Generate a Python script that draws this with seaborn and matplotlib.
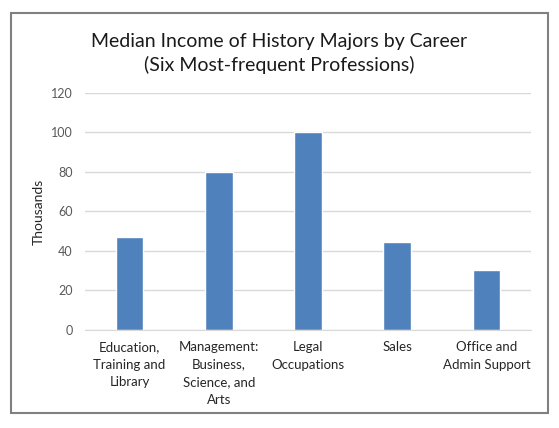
import seaborn as sns
import pandas as pd
import matplotlib.pyplot as plt
from matplotlib.patches import Rectangle

careers = ["Education,\nTraining and\nLibrary",
           "Management:\nBusiness,\nScience, and\nArts",
           "Legal\nOccupations",
           "Sales",
           "Office and\nAdmin Support"]
income = [47, 80, 100, 44.5, 30.5]
yticks = [0, 20, 40, 60, 80, 100, 120]

df = pd.DataFrame({"Career": careers, "Income": income})

sns.set_style("white")
plt.rcParams["font.family"] = ["Lato", "DejaVu Sans"]

fig = plt.figure(figsize=(5.59, 4.28), dpi=100)
ax = fig.add_axes([0.152, 0.229, 0.798, 0.554])

sns.barplot(data=df, x="Career", y="Income", ax=ax, color="#4f81bd",
            saturation=1, width=0.31)

ax.set_ylim(0, 120)
ax.set_yticks(yticks)
ax.yaxis.grid(True, color="#d9d9d9", linewidth=1)
ax.set_axisbelow(True)
for s in ["top", "right", "left"]:
    ax.spines[s].set_visible(False)
ax.spines["bottom"].set_color("#d9d9d9")
ax.tick_params(axis="y", length=0, labelsize=9, labelcolor="#595959", pad=9)
ax.tick_params(axis="x", length=0, labelsize=9.5, labelcolor="#262626", pad=8)
for lbl in ax.get_xticklabels():
    lbl.set_linespacing(1.55)
ax.set_xlabel(None)
ax.set_ylabel("Thousands", fontsize=10, color="#262626", labelpad=4)

fig.text(0.5, 0.875, "Median Income of History Majors by Career\n(Six Most-frequent Professions)",
         ha="center", va="center", fontsize=14, color="#1a1a1a", linespacing=1.35)

# outer chart frame
fig.patches.append(Rectangle((11 / 559, 1 - 413 / 428), 537 / 559, 400 / 428,
                             transform=fig.transFigure, fill=False,
                             edgecolor="#808080", linewidth=1.5))

plt.savefig("out.png", dpi=100)
